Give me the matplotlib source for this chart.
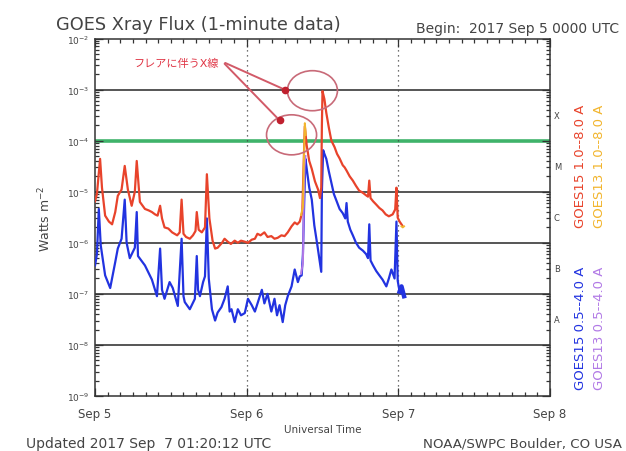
import numpy as np
import matplotlib.pyplot as plt
from matplotlib.patches import Ellipse
from matplotlib.ticker import FixedLocator, LogLocator, NullFormatter, MultipleLocator

plt.rcParams['font.family'] = ['DejaVu Sans', 'Noto Sans CJK JP']

# hours since 2017 Sep 5 00:00 UT, flux in W m^-2
long15_hours = [0.0, 0.3, 0.8, 1.1, 1.6, 2.2, 2.7, 3.2, 3.6, 4.2, 4.7, 5.2, 5.8, 6.3, 6.6, 7.1,
                7.9, 8.5, 9.0, 9.5, 9.9, 10.3, 10.6, 11.0, 11.6, 12.2, 13.0, 13.4, 13.7, 14.0,
                14.4, 15.0, 15.5, 15.9, 16.1, 16.4, 16.9, 17.4, 17.7, 18.1, 18.6, 19.0, 19.4,
                19.7, 20.1, 20.5, 21.0, 21.5, 22.1, 22.6, 23.1, 23.7, 24.2, 24.8, 25.3, 25.7,
                26.2, 26.8, 27.3, 27.9, 28.4, 28.9, 29.5, 30.0, 30.5, 31.1, 31.6, 32.0, 32.4,
                32.8, 33.0, 33.2, 33.5, 33.9, 34.3, 34.8, 35.3, 35.6, 35.8, 35.9, 36.0, 36.3,
                36.6, 37.0, 37.4, 37.9, 38.3, 38.7, 39.2, 39.5, 39.8, 40.3, 40.8, 41.3, 41.8,
                42.4, 42.9, 43.2, 43.4, 43.6, 44.0, 44.5, 45.0, 45.5, 46.0, 46.5, 47.1, 47.5,
                47.7, 47.9, 48.2, 48.6]
long15_flux = [6.5e-6, 9.0e-6, 4.4e-5, 1.2e-5, 3.4e-6, 2.6e-6, 2.3e-6, 4.0e-6, 8.3e-6, 1.1e-5,
               3.2e-5, 1.1e-5, 5.3e-6, 1.0e-5, 4.0e-5, 6.3e-6, 4.6e-6, 4.3e-6, 4.0e-6, 3.6e-6,
               3.4e-6, 5.3e-6, 3.0e-6, 2.0e-6, 1.9e-6, 1.6e-6, 1.4e-6, 1.6e-6, 7.0e-6, 1.5e-6,
               1.3e-6, 1.2e-6, 1.4e-6, 1.7e-6, 4.0e-6, 1.8e-6, 1.6e-6, 2.0e-6, 2.2e-5, 3.0e-6,
               1.1e-6, 7.7e-7, 8.0e-7, 8.8e-7, 1.0e-6, 1.2e-6, 1.05e-6, 9.5e-7, 1.1e-6, 1.0e-6,
               1.1e-6, 1.05e-6, 1.0e-6, 1.15e-6, 1.2e-6, 1.5e-6, 1.4e-6, 1.6e-6, 1.3e-6, 1.35e-6,
               1.2e-6, 1.25e-6, 1.4e-6, 1.35e-6, 1.6e-6, 2.1e-6, 2.5e-6, 2.3e-6, 2.6e-6, 4.0e-6,
               3.0e-5, 1.9e-4, 8.0e-5, 4.0e-5, 2.8e-5, 1.6e-5, 1.1e-5, 7.5e-6, 1.2e-5, 2.0e-4,
               9.3e-4, 6.5e-4, 3.5e-4, 1.8e-4, 1.0e-4, 7.5e-5, 5.5e-5, 4.5e-5, 3.3e-5, 3.0e-5,
               2.6e-5, 2.0e-5, 1.65e-5, 1.3e-5, 1.05e-5, 9.5e-6, 8.5e-6, 8.0e-6, 1.65e-5, 7.5e-6,
               6.5e-6, 5.6e-6, 4.8e-6, 4.3e-6, 3.6e-6, 3.3e-6, 3.6e-6, 4.5e-6, 1.2e-5, 3.1e-6,
               2.6e-6, 2.2e-6]

short15_hours = [0.0, 0.3, 0.6, 0.9, 1.6, 2.4, 3.2, 3.6, 4.2, 4.7, 5.0, 5.5, 6.3, 6.6, 6.8,
                 7.9, 9.0, 9.8, 10.3, 10.6, 11.0, 11.8, 12.3, 13.1, 13.7, 14.0, 14.2, 15.0,
                 15.8, 16.1, 16.3, 16.6, 17.1, 17.4, 17.7, 18.0, 18.5, 19.0, 19.4, 20.0, 20.5,
                 21.0, 21.3, 21.6, 22.1, 22.6, 23.1, 23.7, 24.2, 24.8, 25.3, 25.8, 26.4, 26.8,
                 27.3, 27.9, 28.4, 28.8, 29.2, 29.7, 30.1, 30.5, 31.1, 31.6, 32.1, 32.4, 32.7,
                 32.9, 33.1, 33.3, 33.5, 33.9, 34.3, 34.7, 35.2, 35.8, 35.9, 36.1, 36.3, 36.6,
                 37.0, 37.4, 37.8, 38.2, 38.7, 39.2, 39.6, 39.8, 40.0, 40.4, 40.8, 41.3, 41.8,
                 42.4, 42.9, 43.2, 43.4, 43.6, 44.0, 44.5, 45.0, 45.5, 46.1, 46.5, 46.9, 47.4,
                 47.7, 47.9, 48.2, 48.5, 48.9]
short15_flux = [3.6e-7, 6.0e-7, 4.6e-6, 9.0e-7, 2.3e-7, 1.3e-7, 4.2e-7, 7.7e-7, 1.2e-6, 7.0e-6,
                1.0e-6, 5.0e-7, 8.0e-7, 4.0e-6, 5.5e-7, 3.6e-7, 1.9e-7, 9.0e-8, 7.7e-7, 1.2e-7,
                8.0e-8, 1.7e-7, 1.3e-7, 5.8e-8, 1.2e-6, 9.0e-8, 6.9e-8, 5.0e-8, 8.0e-8, 5.5e-7,
                1.2e-7, 9.0e-8, 1.7e-7, 2.2e-7, 3.0e-6, 2.0e-7, 5.0e-8, 3.0e-8, 4.3e-8, 5.5e-8,
                8.0e-8, 1.4e-7, 4.5e-8, 5.0e-8, 2.8e-8, 5.0e-8, 3.8e-8, 4.2e-8, 8.0e-8, 6.0e-8,
                4.5e-8, 7.0e-8, 1.2e-7, 6.5e-8, 1.0e-7, 4.5e-8, 8.0e-8, 3.8e-8, 6.0e-8, 2.8e-8,
                6.0e-8, 9.0e-8, 1.4e-7, 3.0e-7, 1.7e-7, 2.2e-7, 2.3e-7, 6.0e-7, 6.0e-6, 4.4e-5,
                2.8e-5, 1.2e-5, 7.0e-6, 2.2e-6, 8.7e-7, 2.7e-7, 1.0e-5, 6.5e-5, 5.5e-5, 4.4e-5,
                2.5e-5, 1.5e-5, 9.0e-6, 6.7e-6, 4.6e-6, 3.8e-6, 3.0e-6, 6.0e-6, 2.6e-6, 1.8e-6,
                1.4e-6, 1.0e-6, 8.0e-7, 7.0e-7, 6.0e-7, 5.0e-7, 2.3e-6, 4.5e-7, 3.6e-7, 2.8e-7,
                2.3e-7, 1.9e-7, 1.4e-7, 2.0e-7, 3.0e-7, 2.0e-7, 2.6e-6, 1.8e-7, 1.1e-7, 1.4e-7,
                9.0e-8]

# GOES13 pieces that show from under GOES15 (gap marked with nan)
long13_hours = [32.6, 32.9, 33.05, 33.2, 33.35, np.nan, 48.5, 48.7, 48.9]
long13_flux = [3.5e-6, 5.0e-6, 4.0e-5, 2.2e-4, 1.3e-4, np.nan, 2.1e-6, 2.0e-6, 2.1e-6]
short13_hours = [32.6, 32.9, 33.0, 33.15, 33.3]
short13_flux = [2.5e-7, 4.0e-7, 3.0e-6, 3.0e-5, 5.0e-5]

day_labels = ['Sep 5', 'Sep 6', 'Sep 7', 'Sep 8']
decade_ticks = [1e-9, 1e-8, 1e-7, 1e-6, 1e-5, 1e-4, 1e-3, 1e-2]
decade_labels = ['$10^{-9}$', '$10^{-8}$', '$10^{-7}$', '$10^{-6}$', '$10^{-5}$',
                 '$10^{-4}$', '$10^{-3}$', '$10^{-2}$']
grid_levels = [1e-8, 1e-7, 1e-6, 1e-5, 1e-3]
class_letters = ['A', 'B', 'C', 'M', 'X']
class_lower = [1e-8, 1e-7, 1e-6, 1e-5, 1e-4]

# flare markers (hours, flux)
note_text = 'フレアに伴うX線'
note_pos = (12.8, 3.4e-3)
note_start = (20.2, 3.5e-3)
arrow_targets = [(30.0, 1.0e-3), (29.2, 2.5e-4)]
flare_circles = [(34.4, 9.5e-4), (31.1, 1.3e-4)]

red = '#e8432b'
blue = '#2233e0'
yellow = '#f2b52e'
purple = '#b27ae6'

fig = plt.figure(figsize=(6.26, 4.52), dpi=100)
ax = fig.add_axes([0.1518, 0.1217, 0.7268, 0.7909])

for lev in grid_levels:
    ax.axhline(lev, color='#555555', lw=1.4, zorder=1)
ax.axhline(1e-4, color='#3fb36a', lw=2.6, zorder=1)
for d in [24, 48]:
    ax.axvline(d, color='#444444', lw=0.9, ls=(0, (1, 3)), zorder=1)

ax.plot(short15_hours, short15_flux, color=blue, lw=1.6, zorder=3)
ax.plot(long15_hours, long15_flux, color=red, lw=1.6, zorder=3)
ax.plot(short13_hours, short13_flux, color=purple, lw=1.4, zorder=4)
ax.plot(long13_hours, long13_flux, color=yellow, lw=1.4, zorder=4)
ax.plot(short15_hours[-3:], short15_flux[-3:], color=blue, lw=3.2, zorder=3)

ax.set_yscale('log')
ax.set_xlim(0, 72)
ax.set_ylim(1e-9, 1e-2)

ax.xaxis.set_major_locator(FixedLocator([0, 24, 48, 72]))
ax.set_xticklabels(day_labels)
ax.xaxis.set_minor_locator(MultipleLocator(2))
ax.yaxis.set_major_locator(FixedLocator(decade_ticks))
ax.set_yticklabels(decade_labels)
ax.yaxis.set_minor_locator(LogLocator(base=10, subs=np.arange(2, 10)))
ax.yaxis.set_minor_formatter(NullFormatter())
ax.tick_params(which='both', direction='in', top=True, right=True, width=0.9, color='#333333')
ax.tick_params(which='major', length=6)
ax.tick_params(which='minor', length=3)
ax.tick_params(axis='x', labelsize=8.5, pad=8, colors='#333333', labelcolor='#444444')
ax.tick_params(axis='y', labelsize=6.5, pad=4, labelcolor='#444444')
for s in ax.spines.values():
    s.set_color('#333333')
    s.set_linewidth(1.1)

ax.set_xlabel('Universal Time', fontsize=7.5, color='#444444', labelpad=3)
ax.set_ylabel('Watts m$^{-2}$', fontsize=9, color='#444444', labelpad=10)

# flare class letters on the right axis
for letter, low in zip(class_letters, class_lower):
    ax.text(1.008, np.sqrt(low * low * 10), letter, transform=ax.get_yaxis_transform(),
            fontsize=6, color='#444444', va='center', ha='left')

# annotation
ax.text(note_pos[0], note_pos[1], note_text, color='#e03545', fontsize=8,
        ha='center', va='center', zorder=6)
for tx, ty in arrow_targets:
    ax.annotate('', xy=(tx, ty), xytext=note_start,
                arrowprops=dict(arrowstyle='-', color='#d25a68', lw=1.4), zorder=5)
    ax.plot(tx, ty, 'o', color='#c0202e', ms=4.5, zorder=6)
for cx, cy in flare_circles:
    xa, ya = ax.transLimits.transform(ax.transScale.transform((cx, cy)))
    ax.add_patch(Ellipse((xa, ya), 0.11, 0.112, transform=ax.transAxes, fill=False,
                         ec='#c86a78', lw=1.2, zorder=5))

fig.text(0.089, 0.945, 'GOES Xray Flux (1-minute data)', fontsize=12.8, color='#444444',
         va='center', ha='left')
fig.text(0.665, 0.935, 'Begin:  2017 Sep 5 0000 UTC', fontsize=10, color='#444444',
         va='center', ha='left')
fig.text(0.042, 0.018, 'Updated 2017 Sep  7 01:20:12 UTC', fontsize=10, color='#444444',
         va='center', ha='left')
fig.text(0.994, 0.018, 'NOAA/SWPC Boulder, CO USA', fontsize=9.6, color='#444444',
         va='center', ha='right')

fig.text(0.927, 0.633, 'GOES15 1.0--8.0 A', rotation=90, color=red, fontsize=9.5,
         ha='center', va='center')
fig.text(0.958, 0.633, 'GOES13 1.0--8.0 A', rotation=90, color=yellow, fontsize=9.5,
         ha='center', va='center')
fig.text(0.927, 0.274, 'GOES15 0.5--4.0 A', rotation=90, color=blue, fontsize=9.5,
         ha='center', va='center')
fig.text(0.958, 0.274, 'GOES13 0.5--4.0 A', rotation=90, color=purple, fontsize=9.5,
         ha='center', va='center')

fig.savefig('out.png', dpi=100)
